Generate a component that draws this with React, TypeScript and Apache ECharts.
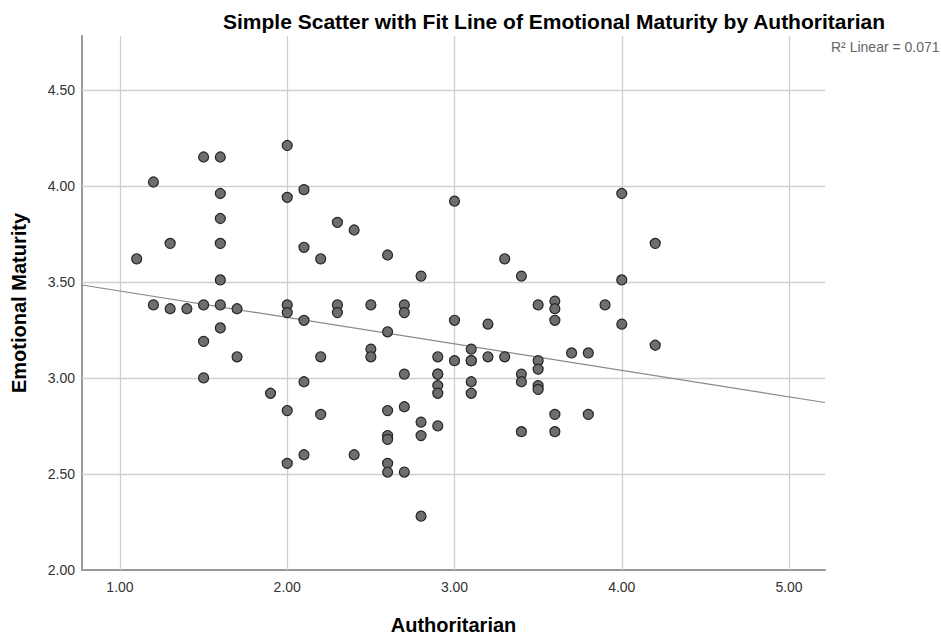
import React, { useEffect, useRef } from "react";
import * as echarts from "echarts";

const authoritarian: number[] = [
  1.1,
  1.2, 1.2,
  1.3, 1.3,
  1.4,
  1.5, 1.5, 1.5, 1.5,
  1.6, 1.6, 1.6, 1.6, 1.6, 1.6, 1.6,
  1.7, 1.7,
  1.9,
  2.0, 2.0, 2.0, 2.0, 2.0, 2.0,
  2.1, 2.1, 2.1, 2.1, 2.1,
  2.2, 2.2, 2.2,
  2.3, 2.3, 2.3,
  2.4, 2.4,
  2.5, 2.5, 2.5,
  2.6, 2.6, 2.6, 2.6, 2.6, 2.6, 2.6,
  2.7, 2.7, 2.7, 2.7, 2.7,
  2.8, 2.8, 2.8, 2.8,
  2.9, 2.9, 2.9, 2.9, 2.9, 2.9,
  3.0, 3.0, 3.0,
  3.1, 3.1, 3.1, 3.1, 3.1,
  3.2, 3.2,
  3.3, 3.3,
  3.4, 3.4, 3.4, 3.4,
  3.5, 3.5, 3.5, 3.5, 3.5,
  3.6, 3.6, 3.6, 3.6, 3.6,
  3.7,
  3.8, 3.8,
  3.9,
  4.0, 4.0, 4.0,
  4.2, 4.2,
];

const emotionalMaturity: number[] = [
  3.62,
  4.02, 3.38,
  3.70, 3.36,
  3.36,
  4.15, 3.38, 3.19, 3.0,
  4.15, 3.96, 3.83, 3.70, 3.51, 3.38, 3.26,
  3.36, 3.11,
  2.92,
  4.21, 3.94, 3.38, 3.34, 2.83, 2.555,
  3.98, 3.68, 3.30, 2.98, 2.60,
  3.62, 3.11, 2.81,
  3.81, 3.38, 3.34,
  3.77, 2.60,
  3.38, 3.15, 3.11,
  3.64, 3.24, 2.83, 2.70, 2.68, 2.555, 2.51,
  3.38, 3.34, 3.02, 2.85, 2.51,
  3.53, 2.77, 2.70, 2.28,
  3.11, 3.02, 3.02, 2.96, 2.92, 2.75,
  3.92, 3.30, 3.09,
  3.15, 3.09, 3.09, 2.98, 2.92,
  3.28, 3.11,
  3.62, 3.11,
  3.53, 3.02, 2.98, 2.72,
  3.38, 3.09, 3.045, 2.96, 2.94,
  3.40, 3.36, 3.30, 2.81, 2.72,
  3.13,
  3.13, 2.81,
  3.38,
  3.96, 3.51, 3.28,
  3.70, 3.17,
];

const xTicks: number[] = [1, 2, 3, 4, 5];
const yTicks: number[] = [2.0, 2.5, 3.0, 3.5, 4.0, 4.5];

const fitIntercept = 3.59;
const fitSlope = -0.1377;
const rSquaredLabel = "R\u00B2 Linear = 0.071";

const X_MIN = 0.773;
const X_MAX = 5.215;
const Y_MIN = 2.0;
const Y_MAX = 4.78;

const FONT = "'Liberation Sans', Arial, Helvetica, sans-serif";

export default function App() {
  const ref = useRef<HTMLDivElement>(null);

  useEffect(() => {
    if (!ref.current) return;
    const chart = echarts.init(ref.current, undefined, { renderer: "svg" });

    const points = authoritarian.map((x, i) => [x, emotionalMaturity[i]]);
    const fitData = [
      [X_MIN, fitIntercept + fitSlope * X_MIN],
      [X_MAX, fitIntercept + fitSlope * X_MAX],
    ];

    const gridLineStyle = { color: "#cfcfcf", width: 1.3, type: "solid" as const };
    const markLineData = [
      ...xTicks.map((v) => ({ xAxis: v })),
      ...yTicks.filter((v) => v > Y_MIN).map((v) => ({ yAxis: v })),
    ];

    chart.setOption({
      animation: false,
      backgroundColor: "#ffffff",
      textStyle: { fontFamily: FONT },
      title: {
        text: "Simple Scatter with Fit Line of Emotional Maturity by Authoritarian",
        left: 549,
        top: 6,
        textAlign: "center",
        textStyle: { fontFamily: FONT, fontSize: 21, fontWeight: "bold", color: "#000" },
      },
      grid: { left: 82, right: 116, top: 36, bottom: 68, containLabel: false },
      xAxis: {
        type: "value",
        min: X_MIN,
        max: X_MAX,
        name: "Authoritarian",
        nameLocation: "middle",
        nameGap: 45,
        nameTextStyle: { fontFamily: FONT, fontSize: 20, fontWeight: "bold", color: "#000" },
        axisLine: { show: true, onZero: false, lineStyle: { color: "#999", width: 2 } },
        axisTick: { show: false },
        splitLine: { show: false },
        axisLabel: {
          customValues: xTicks,
          formatter: (v: number) => v.toFixed(2),
          fontFamily: FONT,
          fontSize: 14,
          color: "#333",
          margin: 10,
        },
      },
      yAxis: {
        type: "value",
        min: Y_MIN,
        max: Y_MAX,
        name: "Emotional Maturity",
        nameLocation: "middle",
        nameGap: 53,
        nameTextStyle: { fontFamily: FONT, fontSize: 20, fontWeight: "bold", color: "#000" },
        axisLine: { show: true, onZero: false, lineStyle: { color: "#999", width: 2 } },
        axisTick: { show: false },
        splitLine: { show: false },
        axisLabel: {
          customValues: yTicks,
          formatter: (v: number) => v.toFixed(2),
          fontFamily: FONT,
          fontSize: 14,
          color: "#333",
          margin: 7,
        },
      },
      graphic: [
        {
          type: "text",
          left: 831,
          top: 40,
          style: { text: rSquaredLabel, fontFamily: FONT, fontSize: 14, fill: "#666" },
        },
      ],
      series: [
        {
          type: "line",
          data: fitData,
          symbol: "none",
          lineStyle: { color: "#8a8a8a", width: 1.2 },
          silent: true,
          z: 3,
          markLine: {
            silent: true,
            symbol: "none",
            label: { show: false },
            lineStyle: gridLineStyle,
            data: markLineData,
            z: 1,
          },
        },
        {
          type: "scatter",
          data: points,
          symbol: "circle",
          symbolSize: 10,
          itemStyle: { color: "#6e6e6e", borderColor: "#262626", borderWidth: 1.2, opacity: 1 },
          z: 5,
        },
      ],
    });

    return () => chart.dispose();
  }, []);

  return (
    <div
      ref={ref}
      style={{ position: "absolute", left: 0, top: 0, width: 941, height: 640 }}
    />
  );
}
